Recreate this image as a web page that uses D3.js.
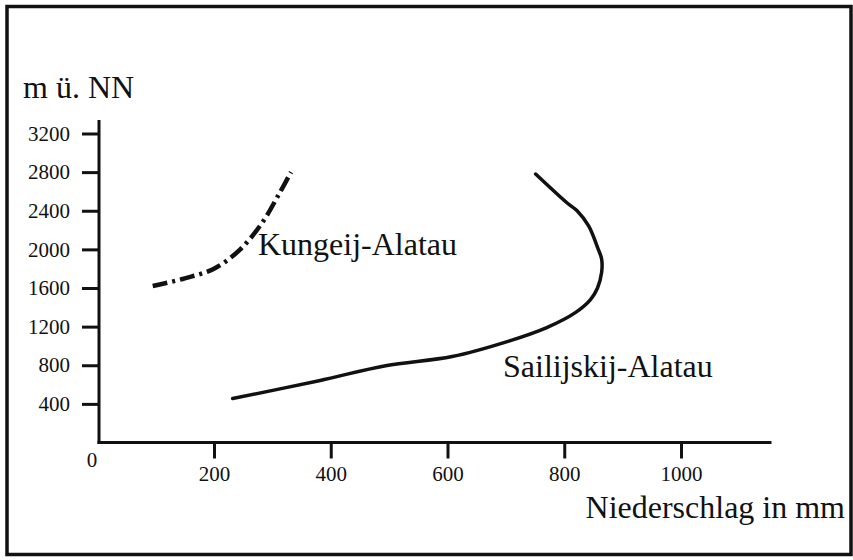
<!DOCTYPE html>
<html>
<head>
<meta charset="utf-8">
<script src="https://cdn.jsdelivr.net/npm/d3@7/dist/d3.min.js"></script>
<style>
  html, body { margin: 0; padding: 0; background: #fff; }
  svg { display: block; }
  text { font-family: "Liberation Serif", "Times New Roman", serif; fill: #111; }
</style>
</head>
<body>
<svg id="chart" width="853" height="560"></svg>
<script>
// Niederschlag (mm) gegen Höhe (m ü. NN)
const kungeijPrecip   = [95, 150, 200, 245, 283, 312, 332];
const kungeijAltitude = [1620, 1700, 1800, 2000, 2280, 2580, 2800];

const sailPrecip   = [232, 380, 494, 608, 705, 770, 819, 845, 857, 864, 864, 857, 842, 822, 805, 751];
const sailAltitude = [455, 640, 795, 890, 1050, 1190, 1345, 1480, 1600, 1760, 1900, 2020, 2240, 2400, 2480, 2780];

const yTicks = [400, 800, 1200, 1600, 2000, 2400, 2800, 3200];
const xTicks = [200, 400, 600, 800, 1000];

const yTitle = "m ü. NN";
const xTitle = "Niederschlag in mm";
const kungeijLabel = "Kungeij-Alatau";
const sailLabel = "Sailijskij-Alatau";

const svg = d3.select("#chart");
const ink = "#111";
const tickFont = 21;

// frame
svg.append("rect")
  .attr("x", 7).attr("y", 6.5).attr("width", 844).attr("height", 548)
  .attr("fill", "none").attr("stroke", ink).attr("stroke-width", 3.5);

const x = d3.scaleLinear().domain([0, 1000]).range([97.25, 681]);
const y = d3.scaleLinear().domain([0, 3200]).range([442.5, 133.5]);
const axisX = 99;

// y axis
const gy = svg.append("g").attr("transform", `translate(${axisX},0)`)
  .call(d3.axisLeft(y).tickValues(yTicks).tickFormat(d3.format("d")).tickSize(17).tickPadding(12));
gy.select(".domain").remove();
gy.selectAll(".tick line").attr("stroke", ink).attr("stroke-width", 3);
gy.selectAll(".tick text").attr("font-size", tickFont).attr("font-family", "Liberation Serif").attr("fill", ink);
svg.append("line")
  .attr("x1", axisX).attr("x2", axisX)
  .attr("y1", y(0) + 1.5).attr("y2", y(3340))
  .attr("stroke", ink).attr("stroke-width", 3);

// x axis
const gx = svg.append("g").attr("transform", `translate(0,${y(0)})`)
  .call(d3.axisBottom(x).tickValues(xTicks).tickFormat(d3.format("d")).tickSize(16).tickPadding(8));
gx.select(".domain").remove();
gx.selectAll(".tick line").attr("stroke", ink).attr("stroke-width", 3);
gx.selectAll(".tick text").attr("font-size", tickFont).attr("font-family", "Liberation Serif").attr("fill", ink);
svg.append("line")
  .attr("x1", axisX - 1.5).attr("x2", x(1155))
  .attr("y1", y(0)).attr("y2", y(0))
  .attr("stroke", ink).attr("stroke-width", 3);

// origin label
svg.append("text").attr("x", 92).attr("y", 467)
  .attr("text-anchor", "middle").attr("font-size", tickFont).text("0");

// titles
svg.append("text").attr("x", 23).attr("y", 98).attr("font-size", 32).text(yTitle);
svg.append("text").attr("x", 845).attr("y", 518)
  .attr("text-anchor", "end").attr("font-size", 32).text(xTitle);

const line = d3.line()
  .x(d => x(d[0])).y(d => y(d[1]))
  .curve(d3.curveCatmullRom.alpha(0.5));

// Kungeij-Alatau, dash-dot
svg.append("path")
  .datum(d3.zip(kungeijPrecip, kungeijAltitude))
  .attr("d", line)
  .attr("fill", "none").attr("stroke", ink)
  .attr("stroke-width", 4.5)
  .attr("stroke-dasharray", "15,5,3,5");

// Sailijskij-Alatau, solid
svg.append("path")
  .datum(d3.zip(sailPrecip, sailAltitude))
  .attr("d", line)
  .attr("fill", "none").attr("stroke", ink)
  .attr("stroke-width", 3.5)
  .attr("stroke-linecap", "round");

// series labels
svg.append("text").attr("x", 258).attr("y", 255).attr("font-size", 32).text(kungeijLabel);
svg.append("text").attr("x", 503).attr("y", 377).attr("font-size", 32).text(sailLabel);
</script>
</body>
</html>
